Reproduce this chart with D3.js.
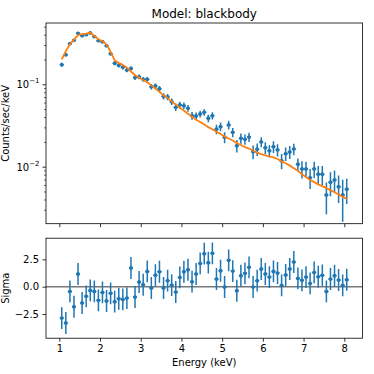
<!DOCTYPE html>
<meta charset="utf-8">
<title>Model: blackbody</title>
<style>
  body { margin: 0; background: #fff; }
  svg { display: block; font-family: 'DejaVu Sans', sans-serif; }
  .axis .domain { display: none; }
  .axis line { stroke: #000; stroke-width: 0.8px; }
  .axis text { font-size: 10px; fill: #000; font-family: 'DejaVu Sans', sans-serif; }
  .axis.minor line { stroke-width: 0.6px; }
  .frame { fill: none; stroke: #000; stroke-width: 0.8px; }
  .bar { stroke: #1f77b4; stroke-width: 1.5px; }
  .dot { fill: #1f77b4; }
  .model { fill: none; stroke: #ff7f0e; stroke-width: 1.8px; stroke-linejoin: round; }
  .zero { stroke: #777; stroke-width: 1.5px; }
  .label { font-size: 10px; fill: #000; }
  .title { font-size: 12px; fill: #000; }
</style>
<svg id="chart" width="374" height="374"></svg>
<script src="https://cdn.jsdelivr.net/npm/d3@7"></script>
<script>
  /* global d3 */
  'use strict'

  // bin centres (keV)
  const energy = [
    1.06, 1.16, 1.26, 1.36, 1.46, 1.56, 1.66, 1.76, 1.86, 1.96,
    2.06, 2.16, 2.26, 2.36, 2.46, 2.56, 2.66, 2.76, 2.86, 2.96,
    3.06, 3.16, 3.26, 3.36, 3.46, 3.56, 3.66, 3.76, 3.86, 3.96,
    4.06, 4.16, 4.26, 4.36, 4.46, 4.56, 4.66, 4.76, 4.86, 4.96,
    5.06, 5.16, 5.26, 5.36, 5.46, 5.56, 5.66, 5.76, 5.86, 5.96,
    6.06, 6.16, 6.26, 6.36, 6.46, 6.56, 6.66, 6.76, 6.86, 6.96,
    7.06, 7.16, 7.26, 7.36, 7.46, 7.56, 7.66, 7.76, 7.86, 7.96,
    8.06,
  ]
  const binHalfWidth = 0.05

  // counts/sec/keV
  const rate = [
    0.173, 0.229, 0.311, 0.342, 0.416, 0.389, 0.400, 0.420, 0.379, 0.338,
    0.329, 0.294, 0.235, 0.180, 0.170, 0.161, 0.149, 0.156, 0.121, 0.123,
    0.115, 0.115, 0.0935, 0.0953, 0.0885, 0.0715, 0.0701, 0.0615, 0.0526, 0.0561,
    0.0550, 0.0511, 0.0416, 0.0412, 0.0436, 0.0457, 0.0387, 0.0416, 0.0285, 0.0306,
    0.0227, 0.0321, 0.0261, 0.0180, 0.0221, 0.0215, 0.0229, 0.0152, 0.0163, 0.0200,
    0.0170, 0.0156, 0.0175, 0.0160, 0.0118, 0.0144, 0.0151, 0.0164, 0.0107, 0.0094,
    0.0094, 0.00736, 0.0094, 0.00809, 0.00809, 0.00454, 0.00647, 0.00690, 0.00572, 0.00454,
    0.00532,
  ]
  const rateErr = [
    0.010, 0.011, 0.012, 0.013, 0.014, 0.014, 0.014, 0.014, 0.014, 0.013,
    0.013, 0.012, 0.011, 0.010, 0.0098, 0.0095, 0.0092, 0.0090, 0.0085, 0.0082,
    0.0080, 0.0078, 0.0072, 0.0070, 0.0068, 0.0062, 0.0060, 0.0056, 0.0053, 0.0052,
    0.0050, 0.0048, 0.0045, 0.0043, 0.0042, 0.0041, 0.0040, 0.0042, 0.0038, 0.0037,
    0.0035, 0.0039, 0.0034, 0.0031, 0.0031, 0.0030, 0.0030, 0.0029, 0.0028, 0.0028,
    0.0028, 0.0027, 0.0028, 0.0027, 0.0025, 0.0027, 0.0027, 0.0026, 0.0019, 0.0022,
    0.0021, 0.0020, 0.0021, 0.0021, 0.0021, 0.0019, 0.0021, 0.0021, 0.0021, 0.0024,
    0.0018,
  ]
  const model = [
    0.201, 0.253, 0.305, 0.348, 0.395, 0.407, 0.412, 0.422, 0.385, 0.352,
    0.333, 0.305, 0.248, 0.195, 0.182, 0.172, 0.159, 0.143, 0.129, 0.120,
    0.113, 0.106, 0.097, 0.089, 0.081, 0.0735, 0.068, 0.062, 0.057, 0.052,
    0.048, 0.044, 0.0405, 0.0372, 0.0348, 0.0325, 0.0302, 0.0285, 0.0265, 0.0250,
    0.0232, 0.0220, 0.0208, 0.0193, 0.0183, 0.0173, 0.0166, 0.0156, 0.0148, 0.0142,
    0.0137, 0.0133, 0.0130, 0.0124, 0.0116, 0.0110, 0.0103, 0.0096, 0.0089, 0.0081,
    0.0075, 0.0069, 0.0065, 0.0061, 0.0058, 0.0055, 0.0052, 0.0049, 0.0046, 0.0043,
    0.0041,
  ]
  // (data - model) / error
  const sigma = [
    -2.87, -3.32, -0.43, -1.83, 1.16, -1.49, -0.88, -0.34, -0.43, -1.25,
    -0.52, -1.31, -0.61, -1.37, -1.10, -1.16, -1.04, 1.71, -0.95, 0.43,
    0.18, 1.40, -0.12, 1.05, 1.37, -0.12, 0.55, 0.15, -0.49, 0.85,
    1.37, 1.55, 0.46, 1.16, 2.13, 3.02, 2.20, 3.05, 0.70, 1.46,
    -0.03, 2.41, 1.43, -0.37, 1.00, 1.22, 1.77, -0.03, 0.55, 1.62,
    1.16, 0.88, 1.40, 1.25, 0.12, 1.07, 1.62, 2.26, 0.76, 0.58,
    0.88, 0.30, 1.31, 0.91, 1.04, -0.43, 0.70, 1.00, 0.61, 0.12,
    0.64,
  ]
  const sigmaErr = 1

  const xTicks = [1, 2, 3, 4, 5, 6, 7, 8]
  const sigmaTicks = [-2.5, 0, 2.5]
  const rateMajor = [{ v: 0.1, exp: '−1' }, { v: 0.01, exp: '−2' }]
  const rateMinor = [0.003, 0.004, 0.005, 0.006, 0.007, 0.008, 0.009,
    0.02, 0.03, 0.04, 0.05, 0.06, 0.07, 0.08, 0.09, 0.2, 0.3, 0.4, 0.5]

  const points = energy.map((e, i) => ({
    e, rate: rate[i], err: rateErr[i], model: model[i], sigma: sigma[i],
  }))

  // panel boxes
  const left = 46, right = 362.5
  const top1 = 23, bottom1 = 223.7
  const top2 = 238.2, bottom2 = 338.2

  const x = d3.scaleLinear().domain([0.673, 8.447]).range([left, right])
  const yRate = d3.scaleLog().domain([0.002032, 0.5546]).range([bottom1, top1])
  const ySig = d3.scaleLinear().domain([-4.712, 4.437]).range([bottom2, top2])

  const svg = d3.select('#chart')
  svg.append('rect').attr('width', 374).attr('height', 374).attr('fill', '#fff')

  const defs = svg.append('defs')
  defs.append('clipPath').attr('id', 'clip1').append('rect')
    .attr('x', left).attr('y', top1).attr('width', right - left).attr('height', bottom1 - top1)
  defs.append('clipPath').attr('id', 'clip2').append('rect')
    .attr('x', left).attr('y', top2).attr('width', right - left).attr('height', bottom2 - top2)

  // ---- top panel: spectrum + model
  const g1 = svg.append('g').attr('clip-path', 'url(#clip1)')
  g1.selectAll('.xbar').data(points).enter().append('line')
    .attr('class', 'bar')
    .attr('x1', d => x(d.e - binHalfWidth)).attr('x2', d => x(d.e + binHalfWidth))
    .attr('y1', d => yRate(d.rate)).attr('y2', d => yRate(d.rate))
  g1.selectAll('.ybar').data(points).enter().append('line')
    .attr('class', 'bar')
    .attr('x1', d => x(d.e)).attr('x2', d => x(d.e))
    .attr('y1', d => yRate(Math.max(d.rate - d.err, 1e-4))).attr('y2', d => yRate(d.rate + d.err))
  g1.selectAll('.dot').data(points).enter().append('circle')
    .attr('class', 'dot').attr('r', 1.9)
    .attr('cx', d => x(d.e)).attr('cy', d => yRate(d.rate))
  g1.append('path').datum(points)
    .attr('class', 'model')
    .attr('d', d3.line().x(d => x(d.e)).y(d => yRate(d.model)))

  svg.append('g').attr('class', 'axis')
    .attr('transform', `translate(0,${bottom1})`)
    .call(d3.axisBottom(x).tickValues(xTicks).tickFormat('').tickSize(3.5).tickSizeOuter(0))
  svg.append('g').attr('class', 'axis')
    .attr('transform', `translate(${left},0)`)
    .call(d3.axisLeft(yRate).tickValues(rateMajor.map(d => d.v)).tickFormat('').tickSize(3.5).tickSizeOuter(0))
  svg.append('g').attr('class', 'axis minor')
    .attr('transform', `translate(${left},0)`)
    .call(d3.axisLeft(yRate).tickValues(rateMinor).tickFormat('').tickSize(2).tickSizeOuter(0))

  const majorLabels = svg.append('g').selectAll('text').data(rateMajor).enter().append('text')
    .attr('class', 'label')
    .attr('text-anchor', 'end')
    .attr('x', left - 6.5)
    .attr('y', d => yRate(d.v) + 4.2)
  majorLabels.append('tspan').text('10')
  majorLabels.append('tspan').attr('dy', -5).style('font-size', '7px').text(d => d.exp)

  svg.append('rect').attr('class', 'frame')
    .attr('x', left).attr('y', top1).attr('width', right - left).attr('height', bottom1 - top1)

  // ---- bottom panel: residuals
  const g2 = svg.append('g').attr('clip-path', 'url(#clip2)')
  g2.append('line').attr('class', 'zero')
    .attr('x1', left).attr('x2', right).attr('y1', ySig(0)).attr('y2', ySig(0))
  g2.selectAll('.xbar').data(points).enter().append('line')
    .attr('class', 'bar')
    .attr('x1', d => x(d.e - binHalfWidth)).attr('x2', d => x(d.e + binHalfWidth))
    .attr('y1', d => ySig(d.sigma)).attr('y2', d => ySig(d.sigma))
  g2.selectAll('.ybar').data(points).enter().append('line')
    .attr('class', 'bar')
    .attr('x1', d => x(d.e)).attr('x2', d => x(d.e))
    .attr('y1', d => ySig(d.sigma - sigmaErr)).attr('y2', d => ySig(d.sigma + sigmaErr))
  g2.selectAll('.dot').data(points).enter().append('circle')
    .attr('class', 'dot').attr('r', 1.9)
    .attr('cx', d => x(d.e)).attr('cy', d => ySig(d.sigma))

  svg.append('g').attr('class', 'axis')
    .attr('transform', `translate(0,${bottom2})`)
    .call(d3.axisBottom(x).tickValues(xTicks).tickFormat(d3.format('d')).tickSize(3.5).tickPadding(3.5).tickSizeOuter(0))
  svg.append('g').attr('class', 'axis')
    .attr('transform', `translate(${left},0)`)
    .call(d3.axisLeft(ySig).tickValues(sigmaTicks)
      .tickFormat(d => d3.format('.1f')(d).replace('-', '−')).tickSize(3.5).tickPadding(3.5).tickSizeOuter(0))

  svg.append('rect').attr('class', 'frame')
    .attr('x', left).attr('y', top2).attr('width', right - left).attr('height', bottom2 - top2)

  // ---- texts
  const mid = (left + right) / 2
  svg.append('text').attr('class', 'title')
    .attr('x', mid).attr('y', 18.3).attr('text-anchor', 'middle')
    .text('Model: blackbody')
  svg.append('text').attr('class', 'label')
    .attr('x', mid).attr('y', 366).attr('text-anchor', 'middle')
    .text('Energy (keV)')
  svg.append('text').attr('class', 'label')
    .attr('transform', `translate(9.3,${(top1 + bottom1) / 2}) rotate(-90)`)
    .attr('text-anchor', 'middle')
    .text('Counts/sec/keV')
  svg.append('text').attr('class', 'label')
    .attr('transform', `translate(9.3,${(top2 + bottom2) / 2}) rotate(-90)`)
    .attr('text-anchor', 'middle')
    .text('Sigma')
</script>
